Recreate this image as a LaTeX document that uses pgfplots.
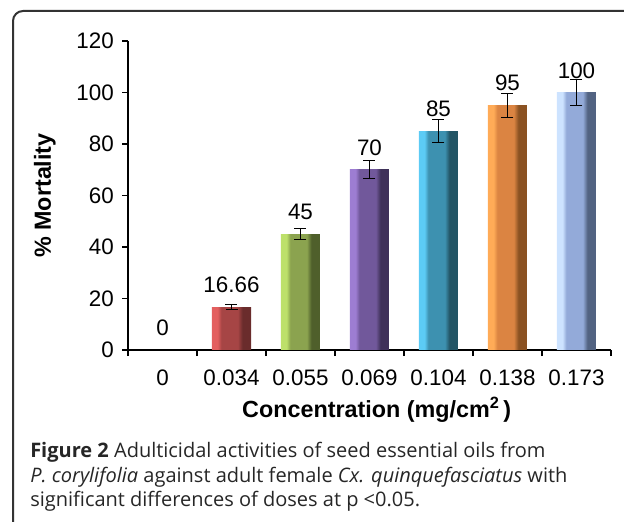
\documentclass[border=0pt]{standalone}
\usepackage{fontspec}
\setmainfont{Liberation Sans}
\newfontfamily\capfont{Open Sans}
\usepackage{pgfplots}
\pgfplotsset{compat=1.18}

% light edge / face / dark edge of each bar
\definecolor{redL}{HTML}{E35F5F}\definecolor{redM}{HTML}{A64545}\definecolor{redD}{HTML}{6A2C2C}
\definecolor{grnL}{HTML}{BDE06A}\definecolor{grnM}{HTML}{8BA34F}\definecolor{grnD}{HTML}{4F5F2B}
\definecolor{purL}{HTML}{9D7DD2}\definecolor{purM}{HTML}{71589B}\definecolor{purD}{HTML}{3F3159}
\definecolor{bluL}{HTML}{5CCBF5}\definecolor{bluM}{HTML}{3D91B0}\definecolor{bluD}{HTML}{235565}
\definecolor{orgL}{HTML}{FFAB57}\definecolor{orgM}{HTML}{DB8442}\definecolor{orgD}{HTML}{8B5222}
\definecolor{lbuL}{HTML}{CDE3FF}\definecolor{lbuM}{HTML}{93AAD9}\definecolor{lbuD}{HTML}{526382}

\newcommand{\barshade}[2]{%
  \pgfdeclarehorizontalshading{#1}{100bp}{color(0bp)=(#2L); color(25bp)=(#2L); color(32bp)=(#2L);
    color(37bp)=(#2M); color(58bp)=(#2M); color(64bp)=(#2D); color(75bp)=(#2D); color(100bp)=(#2D)}}
\barshade{redbar}{red}
\barshade{grnbar}{grn}
\barshade{purbar}{pur}
\barshade{blubar}{blu}
\barshade{orgbar}{org}
\barshade{lbubar}{lbu}

\pgfplotsset{
  concbar/.style={ybar, bar width=29.25pt, bar shift=0pt, draw=none, shade, shading=#1,
    error bars/.cd, y dir=both, y explicit,
    error bar style={black, line width=0.9pt},
    error mark options={rotate=90, mark size=4.5pt, black, line width=0.9pt}},
}

\begin{document}
\begin{tikzpicture}
\useasboundingbox (0,0) rectangle (468pt,390.75pt);

\begin{axis}[
    at={(96pt,128.25pt)}, anchor=south west,
    scale only axis,
    width=362.25pt, height=231.75pt,
    xmin=-0.5, xmax=6.5,
    ymin=0, ymax=120,
    axis x line*=bottom, axis y line*=left,
    axis line style={line width=1.2pt},
    tick align=outside,
    major tick length=4.5pt,
    every tick/.style={black, line width=1.2pt},
    xtick={-0.5,0.5,...,6.5},
    xticklabels={,,,,,,,},
    extra x ticks={0,1,2,3,4,5,6},
    extra x tick labels={0,0.034,0.055,0.069,0.104,0.138,0.173},
    extra x tick style={major tick length=0pt},
    ytick={0,20,...,120},
    /pgf/number format/assume math mode=true,
    tick label style={font=\fontsize{16.8}{18}\selectfont},
    xticklabel style={anchor=center, inner sep=0pt, yshift=-21pt},
    yticklabel style={anchor=east, inner sep=0pt, xshift=-6pt},
    xlabel={Concentration (mg/cm\textsuperscript{2}\,)},
    ylabel={\% Mortality},
    label style={font=\bfseries\fontsize{17.5}{20}\selectfont},
    x label style={at={(axis description cs:0.515,-0.194)}, anchor=center},
    y label style={at={(axis description cs:-0.172,0.5)}, anchor=center},
    point meta=explicit symbolic,
    nodes near coords,
    every node near coord/.append style={anchor=south, inner sep=0pt, yshift=10.5pt,
      font=\fontsize{16.8}{18}\selectfont, black},
]
\addplot[ybar, bar width=29.25pt, bar shift=0pt, draw=none, fill=none]
  table[x=x, y=y, meta=lab] {
x y lab
0 0 0
};
\addplot[concbar=redbar] table[x=x, y=y, y error=e, meta=lab] {
x y e lab
1 16.66 1.0 16.66
};
\addplot[concbar=grnbar] table[x=x, y=y, y error=e, meta=lab] {
x y e lab
2 45 2.2 45
};
\addplot[concbar=purbar] table[x=x, y=y, y error=e, meta=lab] {
x y e lab
3 70 3.5 70
};
\addplot[concbar=blubar] table[x=x, y=y, y error=e, meta=lab] {
x y e lab
4 85 4.5 85
};
\addplot[concbar=orgbar] table[x=x, y=y, y error=e, meta=lab] {
x y e lab
5 95 4.7 95
};
\addplot[concbar=lbubar] table[x=x, y=y, y error=e, meta=lab] {
x y e lab
6 100 5.0 100
};
\end{axis}

% panel frame, cut off on the right and at the bottom
\draw[black!80, line width=1.5pt, rounded corners=7.5pt]
  (9.75pt,-30pt) rectangle (520pt,382.5pt);

% caption
\begin{scope}[every node/.style={anchor=base west, inner sep=0pt, text=black!85,
    font=\capfont\fontsize{15}{18}\selectfont}]
\node at (22.5pt,48pt) {\textbf{Figure 2} Adulticidal activities of seed essential oils from};
\node at (22.5pt,29.25pt) {\textit{P. corylifolia} against adult female \textit{Cx. quinquefasciatus} with};
\node at (22.5pt,11.25pt) {significant differences of doses at p <0.05.};
\end{scope}
\end{tikzpicture}
\end{document}
